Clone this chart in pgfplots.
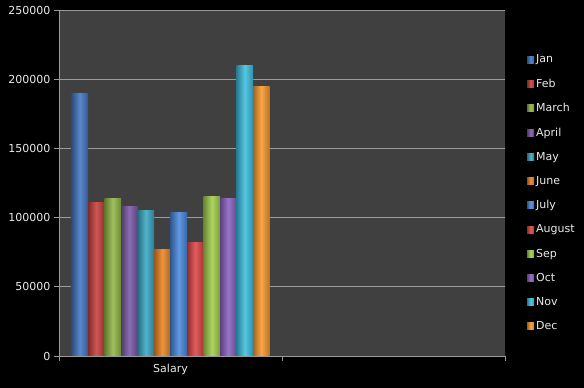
\documentclass[border=0pt]{standalone}
\usepackage{pgfplots}
\pgfplotsset{compat=1.18}
\usepackage{fontspec}
\setmainfont{DejaVu Sans}
\definecolor{bgplot}{HTML}{404040}
\definecolor{gridc}{HTML}{9A9A9A}
\definecolor{cJan}{HTML}{4477C4}
\definecolor{cFeb}{HTML}{C8403D}
\definecolor{cMar}{HTML}{93B847}
\definecolor{cApr}{HTML}{7B5AA8}
\definecolor{cMay}{HTML}{3AA8C4}
\definecolor{cJun}{HTML}{EB8525}
\definecolor{cJul}{HTML}{4A8AE0}
\definecolor{cAug}{HTML}{DE4646}
\definecolor{cSep}{HTML}{A4D04C}
\definecolor{cOct}{HTML}{8C62C2}
\definecolor{cNov}{HTML}{3EC0E2}
\definecolor{cDec}{HTML}{FA9A2C}
\tikzset{cyl/.style={draw=none,left color=#1!65!black,right color=#1!75!black,middle color=#1!88!white}}
\begin{document}
\begin{tikzpicture}
\fill[black] (0,0) rectangle (584pt,388pt);
\begin{axis}[
  at={(59pt,32pt)}, anchor=south west,
  scale only axis, width=446pt, height=346pt,
  axis background/.style={fill=bgplot},
  font=\fontsize{11pt}{13pt}\selectfont,
  ymin=0, ymax=250000, ytick={0,50000,100000,150000,200000,250000},
  yticklabels={0,50000,100000,150000,200000,250000},
  scaled y ticks=false,
  xmin=-0.5, xmax=1.5, xtick={0}, xticklabels={Salary},
  minor xtick={-0.5,0.5,1.5},
  ymajorgrids, grid style={gridc, line width=0.6pt},
  axis x line*=bottom, axis y line*=left,
  axis line style={gridc, line width=0.8pt},
  tick style={gridc, line width=0.8pt},
  major tick length=5pt, minor tick length=5pt,
  major x tick style={draw=none},
  tick align=outside,
  ticklabel style={text=white!92!black},
  ybar=0pt, bar width=16.5pt,
  legend style={at={(1,0.5)}, anchor=west, xshift=19pt, yshift=-10pt, draw=none, fill=none,
    text=white!92!black, row sep=10.6pt, font=\fontsize{11pt}{13pt}\selectfont},
  legend cell align=left,
  legend image code/.code={\fill[#1] (0pt,-3.5pt) rectangle (7pt,3.5pt);},
]
\addplot[cyl=cJan] coordinates {(0,190000)};
\addplot[cyl=cFeb] coordinates {(0,111000)};
\addplot[cyl=cMar] coordinates {(0,114000)};
\addplot[cyl=cApr] coordinates {(0,108000)};
\addplot[cyl=cMay] coordinates {(0,105000)};
\addplot[cyl=cJun] coordinates {(0,77000)};
\addplot[cyl=cJul] coordinates {(0,104000)};
\addplot[cyl=cAug] coordinates {(0,82000)};
\addplot[cyl=cSep] coordinates {(0,115000)};
\addplot[cyl=cOct] coordinates {(0,114000)};
\addplot[cyl=cNov] coordinates {(0,210000)};
\addplot[cyl=cDec] coordinates {(0,195000)};
\legend{Jan,Feb,March,April,May,June,July,August,Sep,Oct,Nov,Dec}
\end{axis}
\end{tikzpicture}
\end{document}
